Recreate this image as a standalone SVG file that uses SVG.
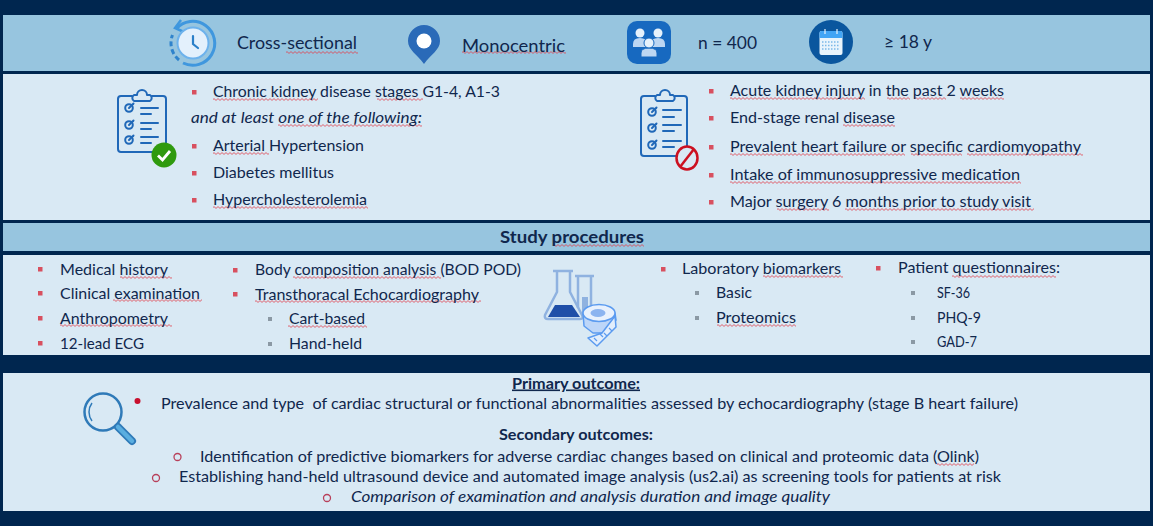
<svg xmlns="http://www.w3.org/2000/svg" width="1155" height="526" viewBox="0 0 1155 526">
<style>
text{font-family:Lato,"Liberation Sans",sans-serif;fill:#10274d;font-size:16px}
.big{font-size:18px}
.b{font-weight:700}
.i{font-style:italic}
.h{font-size:17px}
.sq{fill:url(#wavy)}
.r{fill:#d8505f}
.g{fill:#8b99a4}
.o{fill:none;stroke:#b8405a;stroke-width:1.3}
.ic{fill:none;stroke:#2068b8;stroke-width:2;stroke-linecap:round;stroke-linejoin:round}
.fl{fill:none;stroke:#8fb2e0;stroke-width:2.5;stroke-linejoin:round}
.tp{stroke:#5b9bf0;stroke-width:1.5;stroke-linejoin:round}
</style>
<defs>
<pattern id="wavy" width="4" height="3" patternUnits="userSpaceOnUse"><path d="M0 1.5 L1 .6 L3 2.4 L4 1.5" fill="none" stroke="#e0404c" stroke-width=".8"/></pattern>
<g id="board"><path class="ic" d="M132 96H121a3 3 0 0 0-3 3V149a3 3 0 0 0 3 3H163a3 3 0 0 0 3-3V99a3 3 0 0 0-3-3H152"/><path class="ic" d="M137 95a5 5 0 0 1 10 0h3a3.500 3.500 0 0 1 0 6H134a3.500 3.500 0 0 1 0-6Z"/></g>
<g id="chk"><circle class="ic" cx="0" cy="0" r="3.800"/><path class="ic" d="M0 0L4.500-4.500"/></g>
</defs>
<rect width="1155" height="526" fill="#fff"/>
<rect width="1153" height="526" fill="#00264f"/>
<g id="panels">
<rect x="3" y="15" width="1147" height="56" fill="#97c5df"/>
<rect x="3" y="74" width="1147" height="146" fill="#d9e9f4"/>
<rect x="3" y="223" width="1147" height="28" fill="#97c5df"/>
<rect x="3" y="255" width="1147" height="100" fill="#d9e9f4"/>
<rect x="3" y="373" width="1147" height="138" fill="#d9e9f4"/>
</g>
<g id="icon-clock">
<path d="M176 29A22 22 0 1 1 183 63" fill="none" stroke="#3f97de" stroke-width="3"/>
<path d="M179 60A22 22 0 0 1 172.500 35" fill="none" stroke="#2f83cc" stroke-width="3" stroke-dasharray="5 3"/>
<path d="M181 20L175 28L184 32" fill="none" stroke="#3f97de" stroke-width="2.500"/>
<circle cx="193" cy="43" r="15.500" fill="#e3f0fc" stroke="#6db2ec" stroke-width="2"/>
<path d="M193 36V44L198 48" fill="none" stroke="#2a7fc8" stroke-width="2.200" stroke-linecap="round"/>
</g>
<g id="icon-pin">
<path d="M424 64C417 54 408 50 408 41A16 16 0 1 1 440 41C440 50 431 54 424 64Z" fill="#2a6ab8"/>
<circle cx="424" cy="41" r="7.500" fill="#fff"/>
</g>
<g id="icon-group">
<rect x="627" y="21" width="44" height="43" rx="10" fill="#1769c0"/>
<path d="M633 47V44Q633 38 640 38Q647 38 647 44V47ZM651 47V44Q651 38 658 38Q665 38 665 44V47Z" fill="#bcd6f2"/>
<circle cx="640" cy="33" r="4.500" fill="#e6f1fb"/><circle cx="658" cy="33" r="4.500" fill="#e6f1fb"/>
<path d="M641 57V53Q641 48 649 48Q657 48 657 53V57Z" fill="#bcd6f2" stroke="#1769c0"/>
<circle cx="649" cy="43" r="5" fill="#e6f1fb" stroke="#1769c0"/>
</g>
<g id="icon-calendar">
<circle cx="831" cy="42" r="22" fill="#0a569e"/>
<rect x="819.500" y="31" width="23" height="24" rx="2" fill="#e8f4fc"/>
<path d="M819.500 38V33a2 2 0 0 1 2-2H840.500a2 2 0 0 1 2 2V38Z" fill="#42a5f5"/>
<path d="M825 29V34M837 29V34" stroke="#e8f4fc" stroke-width="1.200"/>
<path d="M822 42H840M822 45.500H840M822 49H840" stroke="#7ab8e8" stroke-width="1.500" stroke-dasharray="1.500 1.500"/>
</g>
<g id="icon-include">
<use href="#board"/>
<use href="#chk" x="129" y="108"/><use href="#chk" x="129" y="125"/><use href="#chk" x="129" y="140"/>
<path class="ic" d="M141 108H158M141 114H151M141 123H158M141 129H151M141 137H158M141 143H151"/>
<circle cx="164" cy="155" r="12.500" fill="#2f9a0e"/>
<path d="M158 155.500L162.500 160L170 151" fill="none" stroke="#fff" stroke-width="2.800"/>
</g>
<g id="icon-exclude">
<path class="ic" d="M655 96H644a3 3 0 0 0-3 3V153a3 3 0 0 0 3 3H677M687 146V99a3 3 0 0 0-3-3H675"/>
<path class="ic" d="M660 95a5 5 0 0 1 10 0h3a3.500 3.500 0 0 1 0 6H657a3.500 3.500 0 0 1 0-6Z"/>
<use href="#chk" x="652" y="112"/><use href="#chk" x="652" y="128"/><use href="#chk" x="652" y="145"/>
<path class="ic" d="M663 110H681M663 117H674M663 125H681M663 131H674M663 141H681M663 147H674"/>
<ellipse cx="687" cy="158" rx="10.500" ry="11.500" fill="none" stroke="#cc1020" stroke-width="2.500"/>
<path d="M694 149L680 167" stroke="#cc1020" stroke-width="2.500"/>
</g>
<g id="icon-lab">
<path class="fl" d="M553 271H573M557 271V292L545 315Q544 319 548 319H580Q584 319 582 315L570 292V271"/>
<path d="M555 305H572L580 317H548Z" fill="#1f4fa8"/>
<path class="fl" d="M575 276H594M578 276V308M591 276V308"/>
<rect x="582" y="297" width="6" height="16" fill="#8fb2e0"/>
<path class="tp" d="M583 313L584 326L593 333L607 333L616 320L615 313L599 320Z" fill="#bdd6f8"/>
<path class="tp" d="M588 338L597 346L616 327L615 316L602 333Z" fill="#e2eefc"/>
<path d="M594 338L597 341M599 333L603 337M604 333L607 336M609 328L612 331" stroke="#5b9bf0" stroke-width="1.200"/>
<ellipse class="tp" cx="599" cy="313" rx="16" ry="8.500" fill="#e8f1fd"/>
<ellipse cx="598" cy="313" rx="7.500" ry="4" fill="#8cb4f0"/>
</g>
<g id="icon-search">
<circle cx="103" cy="412" r="18.500" fill="none" stroke="#2f7ab8" stroke-width="2.500"/>
<path d="M92 403A15 15 0 0 0 92 421" fill="none" stroke="#2f7ab8" stroke-width="1.500"/>
<path d="M118 427L132 441" stroke="#2f7ab8" stroke-width="8" stroke-linecap="round"/>
<path d="M118 427L132 441" stroke="#5aaee0" stroke-width="4.500" stroke-linecap="round"/>
</g>
<g id="bullets">
<rect class="r" x="192" y="90" width="4.500" height="4.500"/><rect class="r" x="192" y="144" width="4.500" height="4.500"/><rect class="r" x="192" y="171" width="4.500" height="4.500"/><rect class="r" x="192" y="198" width="4.500" height="4.500"/>
<rect class="r" x="709" y="89" width="4.500" height="4.500"/><rect class="r" x="709" y="116" width="4.500" height="4.500"/><rect class="r" x="709" y="145" width="4.500" height="4.500"/><rect class="r" x="709" y="173" width="4.500" height="4.500"/><rect class="r" x="709" y="200" width="4.500" height="4.500"/>
<rect class="r" x="38" y="267" width="4.500" height="4.500"/><rect class="r" x="38" y="291" width="4.500" height="4.500"/><rect class="r" x="38" y="316" width="4.500" height="4.500"/><rect class="r" x="38" y="341" width="4.500" height="4.500"/>
<rect class="r" x="233" y="268" width="4.500" height="4.500"/><rect class="r" x="233" y="292" width="4.500" height="4.500"/>
<rect class="g" x="268" y="317" width="4" height="4"/><rect class="g" x="268" y="342" width="4" height="4"/>
<rect class="r" x="661" y="267" width="4.500" height="4.500"/><rect class="r" x="876" y="266" width="4.500" height="4.500"/>
<rect class="g" x="695" y="291" width="4" height="4"/><rect class="g" x="695" y="316" width="4" height="4"/>
<rect class="g" x="911" y="291" width="4" height="4"/><rect class="g" x="911" y="316" width="4" height="4"/><rect class="g" x="911" y="340" width="4" height="4"/>
<circle cx="137.500" cy="401" r="3" fill="#c8102e"/>
<circle class="o" cx="177.500" cy="457" r="3.500"/><circle class="o" cx="156" cy="478" r="3.500"/><circle class="o" cx="327" cy="498" r="3.500"/>
</g>
<g id="squiggles">
<rect class="sq" width="72" height="3" transform="translate(286 51)"/>
<rect class="sq" width="104" height="3" transform="translate(462 51)"/>
<rect class="sq" width="105" height="3" transform="translate(213 98)"/>
<rect class="sq" width="46" height="3" transform="translate(377 98)"/>
<rect class="sq" width="144" height="3" transform="translate(278 124)"/>
<rect class="sq" width="56" height="3" transform="translate(213 152)"/>
<rect class="sq" width="155" height="3" transform="translate(213 206)"/>
<rect class="sq" width="135" height="3" transform="translate(730 97)"/>
<rect class="sq" width="23" height="3" transform="translate(887 97)"/>
<rect class="sq" width="31" height="3" transform="translate(915 97)"/>
<rect class="sq" width="44" height="3" transform="translate(960 97)"/>
<rect class="sq" width="52" height="3" transform="translate(843 124)"/>
<rect class="sq" width="175" height="3" transform="translate(730 153)"/>
<rect class="sq" width="51" height="3" transform="translate(911 153)"/>
<rect class="sq" width="116" height="3" transform="translate(967 153)"/>
<rect class="sq" width="291" height="3" transform="translate(730 181)"/>
<rect class="sq" width="52" height="3" transform="translate(777 208)"/>
<rect class="sq" width="189" height="3" transform="translate(845 208)"/>
<rect class="sq" width="91" height="3" transform="translate(553 244)"/>
<rect class="sq" width="52" height="3" transform="translate(120 276)"/>
<rect class="sq" width="89" height="3" transform="translate(113 299)"/>
<rect class="sq" width="112" height="3" transform="translate(60 324)"/>
<rect class="sq" width="148" height="3" transform="translate(293 276)"/>
<rect class="sq" width="226" height="3" transform="translate(255 300)"/>
<rect class="sq" width="79" height="3" transform="translate(288 325)"/>
<rect class="sq" width="80" height="3" transform="translate(763 275)"/>
<rect class="sq" width="79" height="3" transform="translate(717 324)"/>
<rect class="sq" width="104" height="3" transform="translate(952 275)"/>
<rect class="sq" width="37" height="3" transform="translate(937 463)"/>
</g>
<g id="labels">
<text class="big" x="237" y="49" textLength="120" lengthAdjust="spacingAndGlyphs">Cross-sectional</text>
<text class="big" x="462" y="52" textLength="103" lengthAdjust="spacingAndGlyphs">Monocentric</text>
<text class="big" x="698" y="49" textLength="59" lengthAdjust="spacingAndGlyphs">n = 400</text>
<text class="big" x="884" y="48" textLength="48" lengthAdjust="spacingAndGlyphs">≥ 18 y</text>
<text x="213" y="97" textLength="287" lengthAdjust="spacingAndGlyphs">Chronic kidney disease stages G1-4, A1-3</text>
<text class="i" x="191" y="123" textLength="231" lengthAdjust="spacingAndGlyphs">and at least one of the following:</text>
<text x="213" y="151" textLength="151" lengthAdjust="spacingAndGlyphs">Arterial Hypertension</text>
<text x="213" y="178" textLength="121" lengthAdjust="spacingAndGlyphs">Diabetes mellitus</text>
<text x="213" y="205" textLength="154" lengthAdjust="spacingAndGlyphs">Hypercholesterolemia</text>
<text x="730" y="96" textLength="274" lengthAdjust="spacingAndGlyphs">Acute kidney injury in the past 2 weeks</text>
<text x="730" y="123" textLength="165" lengthAdjust="spacingAndGlyphs">End-stage renal disease</text>
<text x="730" y="152" textLength="351" lengthAdjust="spacingAndGlyphs">Prevalent heart failure or specific cardiomyopathy</text>
<text x="730" y="180" textLength="290" lengthAdjust="spacingAndGlyphs">Intake of immunosuppressive medication</text>
<text x="730" y="207" textLength="301" lengthAdjust="spacingAndGlyphs">Major surgery 6 months prior to study visit</text>
<text class="b h" x="500" y="243" textLength="144" lengthAdjust="spacingAndGlyphs">Study procedures</text>
<text x="60" y="275" textLength="108" lengthAdjust="spacingAndGlyphs">Medical history</text>
<text x="60" y="299" textLength="140" lengthAdjust="spacingAndGlyphs">Clinical examination</text>
<text x="60" y="324" textLength="108" lengthAdjust="spacingAndGlyphs">Anthropometry</text>
<text x="60" y="349" textLength="84" lengthAdjust="spacingAndGlyphs">12-lead ECG</text>
<text x="255" y="275" textLength="266" lengthAdjust="spacingAndGlyphs">Body composition analysis (BOD POD)</text>
<text x="255" y="300" textLength="224" lengthAdjust="spacingAndGlyphs">Transthoracal Echocardiography</text>
<text x="289" y="324" textLength="76" lengthAdjust="spacingAndGlyphs">Cart-based</text>
<text x="289" y="349" textLength="73" lengthAdjust="spacingAndGlyphs">Hand-held</text>
<text x="682" y="274" textLength="159" lengthAdjust="spacingAndGlyphs">Laboratory biomarkers</text>
<text x="716" y="298" textLength="36" lengthAdjust="spacingAndGlyphs">Basic</text>
<text x="716" y="323" textLength="80" lengthAdjust="spacingAndGlyphs">Proteomics</text>
<text x="898" y="273" textLength="162" lengthAdjust="spacingAndGlyphs">Patient questionnaires:</text>
<text x="937" y="298" textLength="33" lengthAdjust="spacingAndGlyphs">SF-36</text>
<text x="937" y="323" textLength="44" lengthAdjust="spacingAndGlyphs">PHQ-9</text>
<text x="937" y="347" textLength="40" lengthAdjust="spacingAndGlyphs">GAD-7</text>
<text class="b" x="512" y="388.500" text-decoration="underline" textLength="128" lengthAdjust="spacingAndGlyphs">Primary outcome:</text>
<text x="161" y="409" style="white-space:pre" textLength="857" lengthAdjust="spacingAndGlyphs">Prevalence and type  of cardiac structural or functional abnormalities assessed by echocardiography (stage B heart failure)</text>
<text class="b" x="499" y="440" textLength="154" lengthAdjust="spacingAndGlyphs">Secondary outcomes:</text>
<text x="200" y="462" textLength="779" lengthAdjust="spacingAndGlyphs">Identification of predictive biomarkers for adverse cardiac changes based on clinical and proteomic data (Olink)</text>
<text x="179" y="482" textLength="822" lengthAdjust="spacingAndGlyphs">Establishing hand-held ultrasound device and automated image analysis (us2.ai) as screening tools for patients at risk</text>
<text class="i" x="351" y="502" textLength="479" lengthAdjust="spacingAndGlyphs">Comparison of examination and analysis duration and image quality</text>
</g>
</svg>
